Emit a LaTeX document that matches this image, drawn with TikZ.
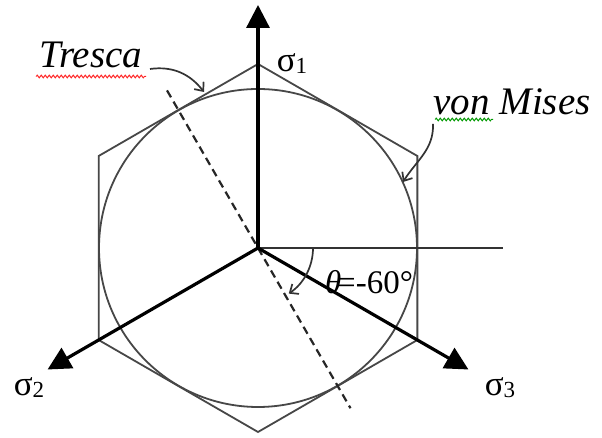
\documentclass[tikz,border=0pt]{standalone}
\usepackage{fontspec}
\setmainfont{Liberation Serif}
\usetikzlibrary{arrows.meta,decorations.pathmorphing}
\begin{document}
\begin{tikzpicture}[x=1pt,y=1pt,
  axisline/.style={line width=3.2pt,draw=black,-{Triangle[length=23pt,width=23pt]}},
  outline/.style={line width=1.8pt,draw=black!72},
  dashline/.style={line width=2.2pt,draw=black!85,dash pattern=on 8pt off 5pt},
  pointer/.style={line width=1.7pt,draw=black!80,-{Straight Barb[length=7pt,width=12pt,line width=1.7pt]}},
  sig/.style={inner sep=0pt,font=\fontsize{35}{35}\selectfont},
  lab/.style={inner sep=0pt,font=\fontsize{39}{39}\selectfont\itshape},
  squig/.style={line width=1pt,decorate,decoration={snake,amplitude=1.3pt,segment length=4pt}}]
\useasboundingbox (0,0) rectangle (602,438);
\fill[white] (0,0) rectangle (602,438);
\coordinate (O) at (258,190);
\begin{scope}[shift={(O)}]
  % Tresca hexagon and von Mises circle
  \draw[outline] (90:184) -- (150:184) -- (210:184) -- (270:184) -- (330:184) -- (30:184) -- cycle;
  \draw[outline] (0,0) circle (159);
  % horizontal reference line
  \coordinate (H) at (245,0);
  \draw[line width=1.8pt,draw=black!80] (0,0) -- (H);
  % dashed line
  \coordinate (D1) at (120:182);
  \coordinate (D2) at (-60:185);
  \draw[dashline] (D1) -- (D2);
  % axes
  \coordinate (A1) at (90:243);
  \coordinate (A2) at (210:243);
  \coordinate (A3) at (330:243);
  \draw[axisline] (0,0) -- (A1);
  \draw[axisline] (0,0) -- (A2);
  \draw[axisline] (0,0) -- (A3);
  % angle arc
  \draw[pointer] (0:55) arc[start angle=0,end angle=-56,radius=55];
\end{scope}
% axis labels
\node[sig] (s1) at (292,374) {σ{\fontsize{23}{23}\selectfont\raisebox{-2pt}{1}}};
\node[sig] (s2) at (29,50) {σ{\fontsize{23}{23}\selectfont\raisebox{-2pt}{2}}};
\node[sig] (s3) at (500,50) {σ{\fontsize{23}{23}\selectfont\raisebox{-2pt}{3}}};
\node[inner sep=0pt,font=\fontsize{33}{33}\selectfont] (th) at (369,156) {\textit{θ}\kern-4pt=-60°};
% criterion labels
\node[lab] (tr) at (91,383) {Tresca};
\node[lab] (vm) at (512,336) {von Mises};
\draw[squig,draw=red!85] (36,361.5) -- (146,361.5);
\draw[squig,draw=green!60!black] (435,318.5) -- (493,318.5);
% pointers
\coordinate (t1) at (150,369);
\coordinate (t2) at (204,346);
\draw[pointer] (t1) to[out=8,in=128] (t2);
\coordinate (v1) at (433,314);
\coordinate (v2) at (403,256);
\draw[pointer] (v1) to[out=-88,in=58] (v2);
\end{tikzpicture}
\end{document}
